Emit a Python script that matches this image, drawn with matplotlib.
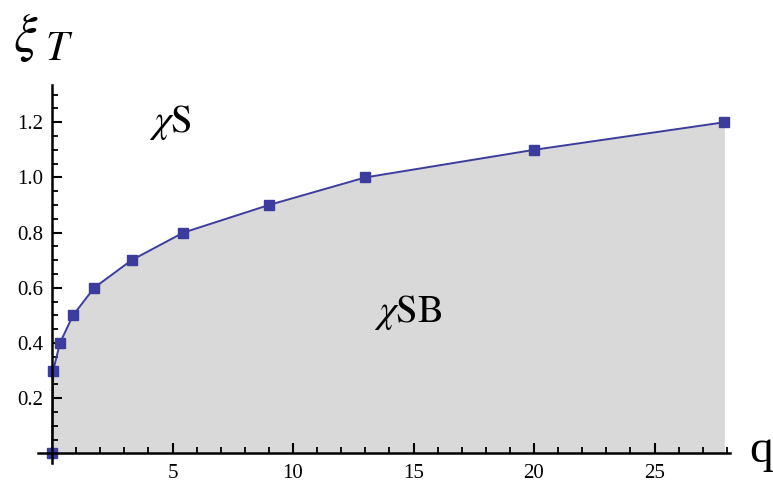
import matplotlib
matplotlib.use("Agg")
import matplotlib.pyplot as plt
from matplotlib.ticker import MultipleLocator, FixedLocator

# Phase boundary points (q, xi_T)
q_vals = [0.0, 0.05, 0.33, 0.87, 1.75, 3.3, 5.45, 9.0, 13.0, 20.0, 27.9]
xi_vals = [0.0, 0.3, 0.4, 0.5, 0.6, 0.7, 0.8, 0.9, 1.0, 1.1, 1.2]

x_major = [5, 10, 15, 20, 25]
y_major = [0.2, 0.4, 0.6, 0.8, 1.0, 1.2]

line_color = "#3c3c9c"
fill_color = "#d9d9d9"

plt.rcParams["mathtext.fontset"] = "stix"
plt.rcParams["font.family"] = ["Liberation Serif", "DejaVu Serif"]

fig = plt.figure(figsize=(7.73, 4.84), dpi=100)
ax = fig.add_axes([52 / 773 - 0.6 * 24.1 / 773, (484 - 463) / 484,
                   (28.75 * 24.1) / 773, (463 - 85) / 484])
ax.set_xlim(-0.6, 28.15)
ax.set_ylim(-0.035, 1.335)

ax.fill_between(q_vals, xi_vals, 0, color=fill_color, lw=0, zorder=1)
ax.plot(q_vals, xi_vals, color=line_color, lw=1.4, zorder=3)
ax.plot(q_vals, xi_vals, ls="none", marker="s", ms=7, color=line_color,
        mec=line_color, zorder=4)

for side in ("top", "right"):
    ax.spines[side].set_visible(False)
ax.spines["left"].set_position(("data", 0))
ax.spines["bottom"].set_position(("data", 0))
for side in ("left", "bottom"):
    ax.spines[side].set_linewidth(1.8)
    ax.spines[side].set_zorder(5)

ax.xaxis.set_major_locator(FixedLocator(x_major))
ax.xaxis.set_minor_locator(MultipleLocator(1))
ax.yaxis.set_major_locator(FixedLocator(y_major))
ax.yaxis.set_minor_locator(MultipleLocator(0.05))
ax.set_xticklabels([str(v) for v in x_major])
ax.set_yticklabels([f"{v:.1f}" for v in y_major])

ax.tick_params(axis="both", which="major", direction="in", length=7, width=1.5,
               labelsize=15, colors="black")
ax.tick_params(axis="both", which="minor", direction="in", length=4, width=1.3)
ax.tick_params(axis="x", which="major", pad=8)
ax.tick_params(axis="y", which="major", pad=6)

# Axis labels
fig.text(13 / 773, 1 - 37 / 484, r"$\xi$", fontsize=38, va="center", ha="left")
fig.text(45 / 773, 1 - 50 / 484, r"$T$", fontsize=30, va="center", ha="left")
fig.text(749 / 773, 1 - 451 / 484, "q", fontsize=34, va="center", ha="left")

# Region labels
ax.text(4.9, 1.2, r"$\chi\mathrm{S}$", fontsize=28, ha="center", va="center")
ax.text(14.8, 0.51, r"$\chi\mathrm{SB}$", fontsize=28, ha="center", va="center")

fig.savefig("out.png", dpi=100)
